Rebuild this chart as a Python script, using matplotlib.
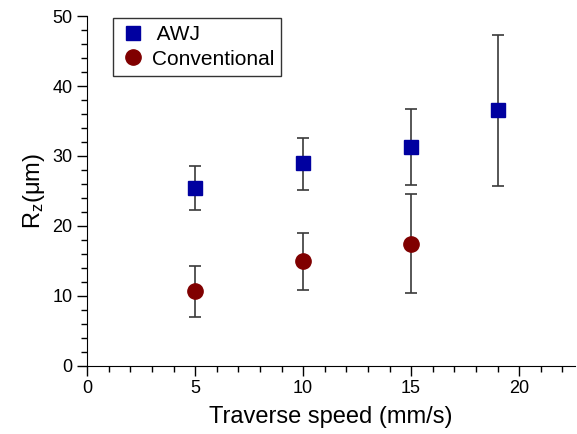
import matplotlib
matplotlib.use('Agg')
from matplotlib import pyplot as plt
from matplotlib.ticker import MultipleLocator
from matplotlib.lines import Line2D

awj_speed = [5, 10, 15, 19]
awj_rz = [25.4, 29.0, 31.3, 36.6]
awj_low = [22.3, 25.2, 25.9, 25.7]
awj_high = [28.5, 32.5, 36.7, 47.3]

conv_speed = [5, 10, 15]
conv_rz = [10.7, 15.0, 17.4]
conv_low = [7.0, 10.9, 10.4]
conv_high = [14.3, 19.0, 24.5]

plt.rcParams['font.family'] = ['Liberation Sans', 'DejaVu Sans']

fig = plt.figure(figsize=(5.77, 4.34), dpi=100)
ax = fig.add_axes([0.151, 0.157, 0.846, 0.806])

awj_err = [[v - lo for v, lo in zip(awj_rz, awj_low)], [hi - v for v, hi in zip(awj_rz, awj_high)]]
conv_err = [[v - lo for v, lo in zip(conv_rz, conv_low)], [hi - v for v, hi in zip(conv_rz, conv_high)]]

ax.errorbar(awj_speed, awj_rz, yerr=awj_err, fmt='s', color='#0000a0', markersize=10,
            ecolor='#3a3a3a', elinewidth=1.2, capsize=4, capthick=1.2, zorder=3)
ax.errorbar(conv_speed, conv_rz, yerr=conv_err, fmt='o', color='#800000', markersize=11,
            ecolor='#3a3a3a', elinewidth=1.2, capsize=4, capthick=1.2, zorder=3)

ax.set_xlim(0, 22.6)
ax.set_ylim(0, 50)
ax.xaxis.set_major_locator(MultipleLocator(5))
ax.xaxis.set_minor_locator(MultipleLocator(1))
ax.yaxis.set_major_locator(MultipleLocator(10))
ax.yaxis.set_minor_locator(MultipleLocator(2))
ax.tick_params(which='major', direction='out', length=7, width=1, labelsize=13, colors='black')
ax.tick_params(which='minor', direction='out', length=4, width=1)
ax.spines['top'].set_visible(False)
ax.spines['right'].set_visible(False)

ax.set_xlabel('Traverse speed (mm/s)', fontsize=17, labelpad=6)
ax.set_ylabel(r'R$\mathregular{_z}$(μm)', fontsize=17, labelpad=4)

handles = [Line2D([], [], marker='s', linestyle='none', color='#0000a0', markersize=10),
           Line2D([], [], marker='o', linestyle='none', color='#800000', markersize=11)]
leg = ax.legend(handles, [' AWJ', 'Conventional'], loc='upper left',
                bbox_to_anchor=(0.053, 0.994), borderaxespad=0, fontsize=15, frameon=True,
                fancybox=False, edgecolor='black', handletextpad=0.3, borderpad=0.35,
                labelspacing=0.25, handlelength=1.2)
leg.get_frame().set_linewidth(1)

fig.savefig('out.png', dpi=100)
